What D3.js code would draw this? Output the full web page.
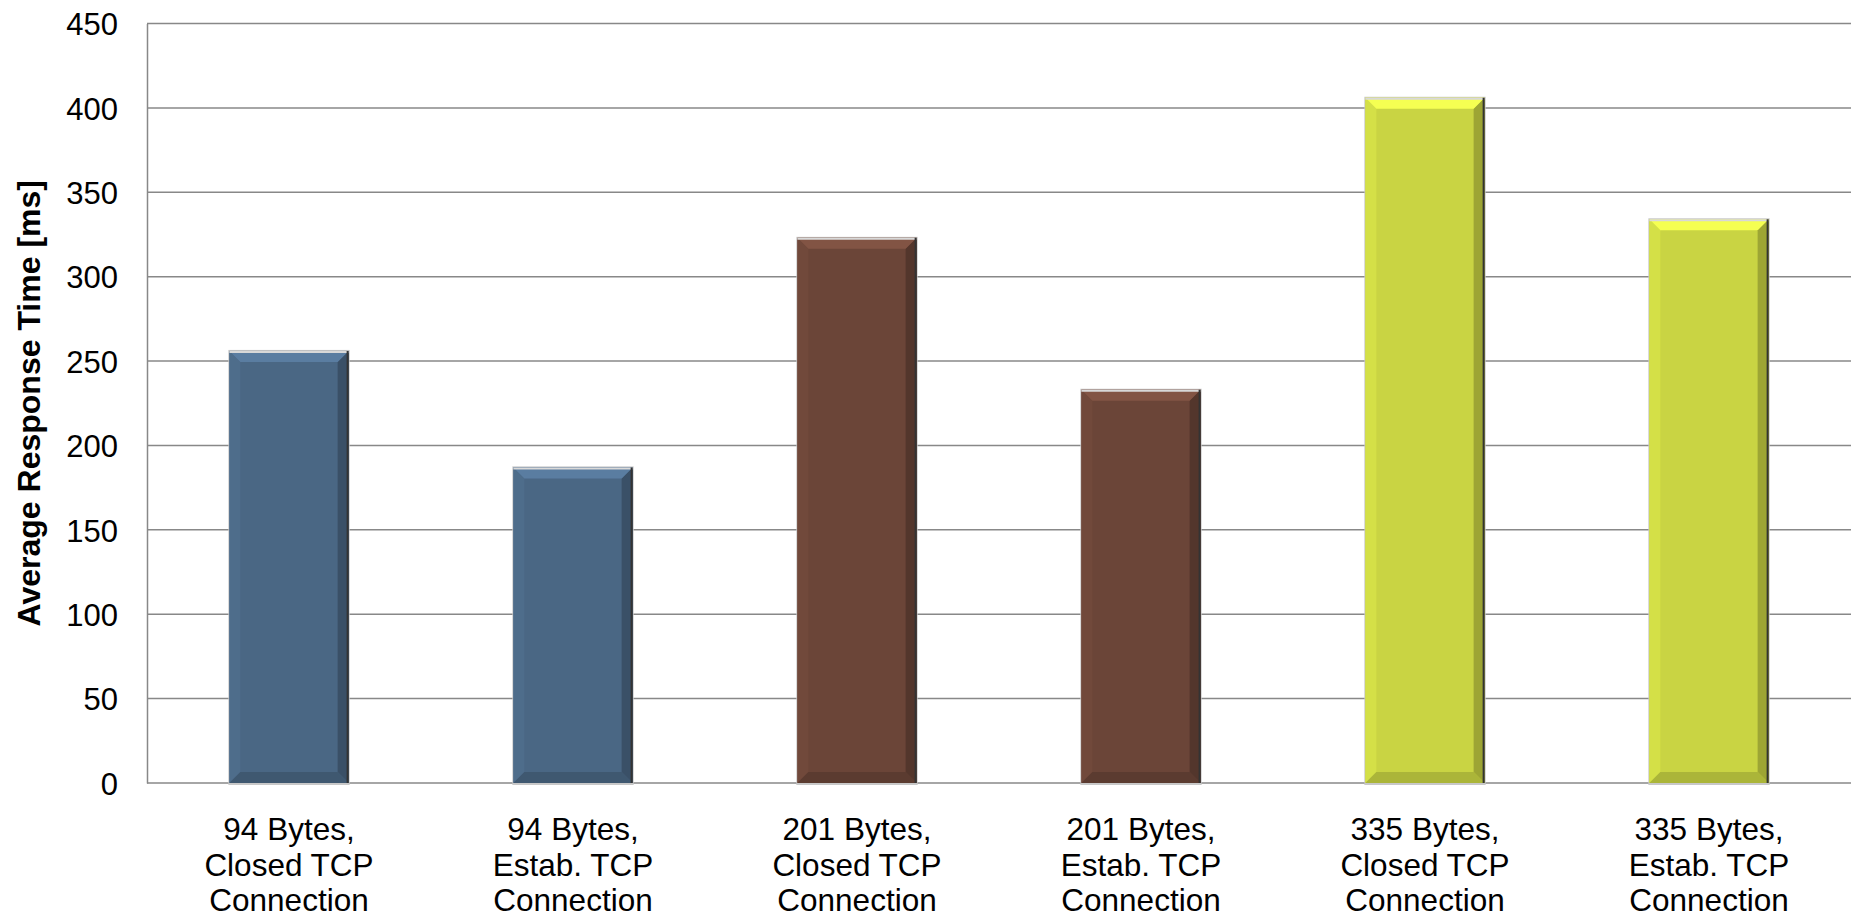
<!DOCTYPE html>
<html>
<head>
<meta charset="utf-8">
<script src="https://cdn.jsdelivr.net/npm/d3@7"></script>
<style>
  body { margin: 0; background: #fff; }
  text { font-family: "Liberation Sans", Arial, sans-serif; fill: #000; }
</style>
</head>
<body>
<svg id="chart"></svg>
<script>
const categories = [
  ["94 Bytes,", "Closed TCP", "Connection"],
  ["94 Bytes,", "Estab. TCP", "Connection"],
  ["201 Bytes,", "Closed TCP", "Connection"],
  ["201 Bytes,", "Estab. TCP", "Connection"],
  ["335 Bytes,", "Closed TCP", "Connection"],
  ["335 Bytes,", "Estab. TCP", "Connection"]
];
const values = [256, 187, 323, 233, 406, 334];
const barColors = ["#4a6784", "#4a6784", "#6b4538", "#6b4538", "#c9d443", "#c9d443"];
const yTicks = [0, 50, 100, 150, 200, 250, 300, 350, 400, 450];
const yTitle = "Average Response Time [ms]";

const width = 1858, height = 918;
const margin = { top: 23.5, right: 7, bottom: 135, left: 147 };
const innerW = width - margin.left - margin.right;
const innerH = height - margin.top - margin.bottom;

const svg = d3.select("#chart").attr("width", width).attr("height", height);
const g = svg.append("g").attr("transform", `translate(${margin.left},${margin.top})`);

const x = d3.scaleBand()
  .domain(d3.range(categories.length))
  .range([0, innerW])
  .paddingInner(0.58)
  .paddingOuter(0.29);

const y = d3.scaleLinear().domain([0, 450]).range([innerH, 0]);

// gridlines
g.append("g")
  .selectAll("line")
  .data(yTicks)
  .join("line")
  .attr("x1", 0).attr("x2", innerW)
  .attr("y1", d => y(d)).attr("y2", d => y(d))
  .attr("stroke", "#888").attr("stroke-width", 1.5);

// y axis
g.append("g")
  .call(d3.axisLeft(y).tickValues(yTicks).tickSize(0).tickPadding(29))
  .call(a => a.select(".domain").attr("stroke", "#888").attr("stroke-width", 1.5))
  .selectAll("text")
  .style("font-size", "31px")
  .attr("dy", "0.36em");

// bars with bevel
const bev = 11;
const bars = g.selectAll(".bar")
  .data(values.map((v, i) => ({ v, i })))
  .join("g")
  .attr("class", "bar");

bars.append("rect")
  .attr("x", d => x(d.i) - 1)
  .attr("y", d => y(d.v) - 1)
  .attr("width", x.bandwidth() + 2)
  .attr("height", d => innerH - y(d.v) + 3)
  .attr("fill", "#c8c8c8");

bars.append("rect")
  .attr("x", d => x(d.i))
  .attr("y", d => y(d.v))
  .attr("width", x.bandwidth())
  .attr("height", d => innerH - y(d.v))
  .attr("fill", d => barColors[d.i]);

function quad(d, side) {
  const x0 = x(d.i), x1 = x(d.i) + x.bandwidth();
  const y0 = y(d.v), y1 = innerH;
  const pts = {
    top: [[x0, y0], [x1, y0], [x1 - bev, y0 + bev], [x0 + bev, y0 + bev]],
    left: [[x0, y0], [x0 + bev, y0 + bev], [x0 + bev, y1 - bev], [x0, y1]],
    right: [[x1, y0], [x1, y1], [x1 - bev, y1 - bev], [x1 - bev, y0 + bev]],
    bottom: [[x0, y1], [x0 + bev, y1 - bev], [x1 - bev, y1 - bev], [x1, y1]]
  }[side];
  return pts.map(p => p.join(",")).join(" ");
}

const sideShade = {
  top: c => d3.color(c).brighter(0.55),
  left: c => d3.color(c).brighter(0.15),
  right: c => d3.color(c).darker(0.7),
  bottom: c => d3.color(c).darker(0.45)
};

["left", "right", "bottom", "top"].forEach(side => {
  bars.append("polygon")
    .attr("points", d => quad(d, side))
    .attr("fill", d => sideShade[side](barColors[d.i]));
});

// outer edge lines
bars.append("line")
  .attr("x1", d => x(d.i)).attr("x2", d => x(d.i) + x.bandwidth())
  .attr("y1", d => y(d.v) + 1).attr("y2", d => y(d.v) + 1)
  .attr("stroke", "#d8d8d8").attr("stroke-width", 2);
bars.append("line")
  .attr("x1", d => x(d.i) + x.bandwidth() - 1).attr("x2", d => x(d.i) + x.bandwidth() - 1)
  .attr("y1", d => y(d.v)).attr("y2", innerH)
  .attr("stroke", "#333").attr("stroke-width", 2);

// category labels
const lab = g.append("g")
  .selectAll("text")
  .data(categories)
  .join("text")
  .attr("text-anchor", "middle")
  .attr("transform", (d, i) => `translate(${x(i) + x.bandwidth() / 2},${innerH + 57})`)
  .style("font-size", "31.5px");
lab.selectAll("tspan")
  .data(d => d)
  .join("tspan")
  .attr("x", 0)
  .attr("dy", (d, j) => j === 0 ? 0 : 35.5)
  .text(d => d);

// y title
svg.append("text")
  .attr("transform", `translate(40,${margin.top + innerH / 2}) rotate(-90)`)
  .attr("text-anchor", "middle")
  .style("font-size", "32px")
  .style("font-weight", "bold")
  .text(yTitle);
</script>
</body>
</html>
